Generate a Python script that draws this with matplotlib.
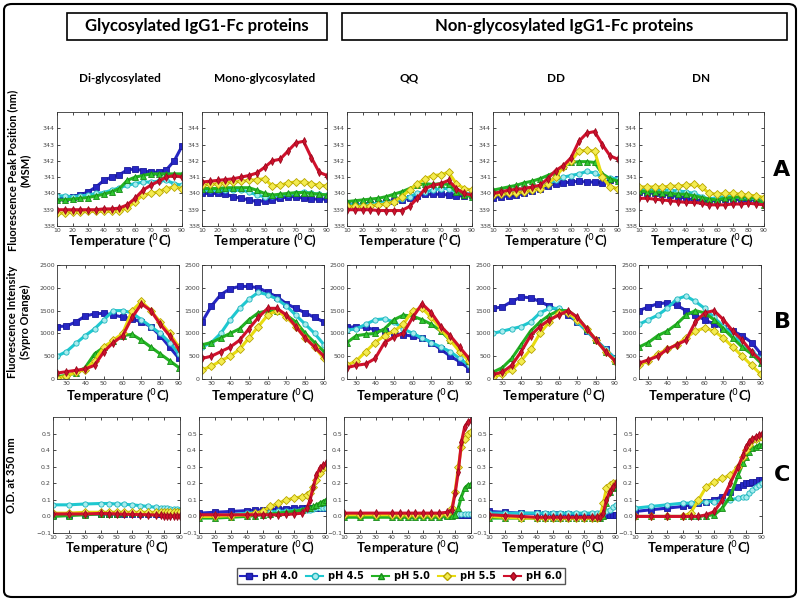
import numpy as np
import matplotlib
matplotlib.use('Agg')
import matplotlib.pyplot as plt
from matplotlib.patches import FancyBboxPatch, Rectangle

# ---- data ----
rowA_T = [10, 15, 20, 25, 30, 35, 40, 45, 50, 55, 60, 65, 70, 75, 80, 85, 90]
rowB_T = [25, 30, 35, 40, 45, 50, 55, 60, 65, 70, 75, 80, 85, 90]
rowC_T = [10, 20, 30, 40, 45, 50, 55, 60, 65, 70, 75, 78, 80, 82, 84, 86, 88, 90]

ph_labels = ['pH 4.0', 'pH 4.5', 'pH 5.0', 'pH 5.5', 'pH 6.0']
col_titles = ['Di-glycosylated', 'Mono-glycosylated', 'QQ', 'DD', 'DN']

# Row A: fluorescence peak position (nm)
di_A = [
    [339.7, 339.75, 339.8, 339.9, 340.1, 340.4, 340.8, 341.0, 341.15, 341.45, 341.5, 341.4, 341.3, 341.3, 341.45, 342.0, 342.9],
    [339.85, 339.85, 339.8, 339.85, 339.9, 340.0, 340.05, 340.2, 340.35, 340.5, 340.6, 340.7, 340.7, 340.75, 340.8, 340.6, 340.5],
    [339.6, 339.6, 339.65, 339.7, 339.75, 339.85, 339.95, 340.1, 340.3, 340.8, 341.0, 341.1, 341.2, 341.2, 341.2, 341.2, 341.2],
    [338.8, 338.8, 338.85, 338.85, 338.9, 338.9, 338.9, 338.9, 338.95, 339.1, 339.5, 339.9, 340.0, 340.1, 340.3, 340.4, 340.3],
    [339.0, 339.0, 339.0, 339.0, 339.0, 339.0, 339.05, 339.05, 339.1, 339.3, 339.7, 340.2, 340.5, 340.75, 341.0, 341.1, 341.0],
]
mono_A = [
    [340.0, 340.0, 340.0, 339.95, 339.8, 339.7, 339.6, 339.5, 339.55, 339.6, 339.7, 339.8, 339.8, 339.7, 339.65, 339.65, 339.65],
    [340.2, 340.2, 340.2, 340.2, 340.2, 340.2, 340.1, 339.9, 339.8, 339.85, 339.9, 339.95, 340.0, 340.1, 340.0, 339.95, 339.9],
    [340.3, 340.3, 340.3, 340.35, 340.35, 340.35, 340.35, 340.2, 340.0, 339.9, 339.95, 340.0, 340.05, 340.05, 340.0, 339.95, 339.9],
    [340.5, 340.55, 340.6, 340.65, 340.7, 340.75, 340.8, 340.85, 340.9, 340.45, 340.5, 340.65, 340.7, 340.7, 340.6, 340.5, 340.45],
    [340.7, 340.75, 340.8, 340.85, 340.9, 341.0, 341.1, 341.25, 341.6, 342.0, 342.1, 342.6, 343.1, 343.2, 342.2, 341.3, 341.1],
]
qq_A = [
    [339.3, 339.3, 339.3, 339.35, 339.4, 339.5, 339.55, 339.6, 339.7, 339.85, 339.95, 339.95, 339.95, 339.9, 339.85, 339.85, 339.9],
    [339.3, 339.3, 339.3, 339.35, 339.4, 339.45, 339.5, 339.65, 339.8, 340.0, 340.1, 340.2, 340.3, 340.3, 340.1, 340.0, 339.95],
    [339.5, 339.55, 339.6, 339.65, 339.7, 339.8, 339.95, 340.1, 340.3, 340.5, 340.6, 340.55, 340.6, 340.55, 340.1, 339.9, 339.8],
    [339.2, 339.2, 339.2, 339.25, 339.3, 339.35, 339.5, 339.8, 340.2, 340.6, 340.9, 341.1, 341.15, 341.3, 340.6, 340.3, 340.2],
    [339.0, 339.0, 339.0, 339.0, 338.95, 338.95, 338.95, 338.95, 339.2, 339.7, 340.3, 340.5, 340.6, 340.8, 340.3, 340.0, 339.9],
]
dd_A = [
    [339.75, 339.8, 339.85, 339.9, 340.0, 340.15, 340.3, 340.45, 340.6, 340.65, 340.7, 340.75, 340.7, 340.7, 340.65, 340.8, 340.9],
    [340.0, 340.05, 340.1, 340.2, 340.3, 340.35, 340.4, 340.6, 340.8, 341.0, 341.1, 341.2, 341.35, 341.25, 341.0, 340.95, 340.9],
    [340.2, 340.3, 340.4, 340.5, 340.65, 340.75, 340.9, 341.1, 341.3, 341.7, 341.9, 341.95, 341.95, 341.9, 341.2, 340.9, 340.75],
    [339.9, 339.95, 340.0, 340.05, 340.1, 340.2, 340.3, 340.6, 341.0, 341.6, 342.0, 342.6, 342.65, 342.6, 341.0, 340.4, 340.3],
    [340.0, 340.1, 340.2, 340.25, 340.3, 340.4, 340.5, 340.9, 341.4, 341.7, 342.2, 343.2, 343.7, 343.8, 343.0, 342.3, 342.1],
]
dn_A = [
    [340.1, 340.05, 340.0, 339.95, 339.9, 339.8, 339.7, 339.6, 339.55, 339.5, 339.6, 339.65, 339.65, 339.6, 339.6, 339.6, 339.6],
    [340.3, 340.3, 340.25, 340.2, 340.2, 340.15, 340.1, 340.0, 339.8, 339.65, 339.75, 339.8, 339.8, 339.75, 339.7, 339.7, 339.65],
    [340.15, 340.1, 340.1, 340.05, 340.0, 339.95, 339.95, 339.85, 339.75, 339.65, 339.6, 339.7, 339.75, 339.8, 339.8, 339.7, 339.3],
    [340.4, 340.4, 340.4, 340.4, 340.45, 340.45, 340.5, 340.55, 340.4, 340.0, 339.95, 340.0, 340.0, 339.95, 339.9, 339.85, 339.75],
    [339.7, 339.7, 339.65, 339.6, 339.55, 339.5, 339.45, 339.45, 339.4, 339.3, 339.3, 339.3, 339.35, 339.35, 339.4, 339.35, 339.3],
]

# Row B: fluorescence intensity (Sypro Orange)
di_B = [
    [1150, 1160, 1250, 1380, 1430, 1440, 1400, 1360, 1320, 1250, 1150, 950, 700, 450],
    [500, 600, 780, 950, 1100, 1300, 1500, 1500, 1450, 1300, 1150, 1000, 800, 550],
    [50, 80, 130, 250, 550, 700, 830, 950, 980, 850, 700, 550, 400, 250],
    [20, 60, 150, 200, 400, 700, 850, 1000, 1500, 1700, 1500, 1250, 1000, 700],
    [130, 160, 190, 220, 300, 600, 800, 950, 1350, 1650, 1500, 1200, 950, 650],
]
mono_B = [
    [1250, 1600, 1850, 1980, 2030, 2030, 2000, 1900, 1800, 1650, 1550, 1450, 1350, 1250],
    [700, 800, 1000, 1300, 1550, 1750, 1900, 1850, 1750, 1600, 1400, 1200, 1000, 750],
    [750, 800, 900, 1000, 1100, 1300, 1450, 1500, 1500, 1400, 1250, 1000, 800, 600],
    [200, 280, 400, 500, 650, 900, 1150, 1400, 1500, 1350, 1150, 900, 700, 450],
    [450, 500, 600, 700, 850, 1100, 1350, 1550, 1550, 1400, 1150, 900, 700, 500],
]
qq_B = [
    [1130, 1150, 1130, 1080, 1050, 1000, 970, 940, 900, 800, 650, 500, 380, 230],
    [1070, 1100, 1200, 1300, 1320, 1250, 1100, 1000, 900, 800, 700, 600, 450, 300],
    [800, 950, 980, 1000, 1100, 1300, 1400, 1380, 1300, 1200, 1050, 850, 650, 400],
    [300, 400, 600, 800, 950, 1050, 1200, 1500, 1550, 1350, 1100, 850, 600, 400],
    [250, 300, 330, 450, 800, 920, 1000, 1350, 1650, 1450, 1150, 950, 700, 450],
]
dd_B = [
    [1550, 1580, 1700, 1800, 1780, 1700, 1600, 1500, 1400, 1250, 1050, 850, 650, 450],
    [1000, 1050, 1100, 1150, 1250, 1450, 1550, 1550, 1450, 1250, 1050, 850, 650, 450],
    [150, 250, 450, 750, 1050, 1250, 1400, 1500, 1500, 1350, 1100, 850, 600, 400],
    [50, 100, 200, 400, 650, 1000, 1250, 1450, 1450, 1300, 1100, 850, 600, 400],
    [100, 150, 300, 600, 950, 1150, 1300, 1400, 1500, 1350, 1100, 850, 600, 400],
]
dn_B = [
    [1500, 1580, 1650, 1670, 1620, 1500, 1400, 1300, 1200, 1120, 1050, 950, 800, 550],
    [1200, 1300, 1400, 1550, 1750, 1820, 1700, 1550, 1350, 1150, 950, 800, 600, 450],
    [700, 800, 950, 1050, 1200, 1400, 1500, 1450, 1300, 1100, 900, 700, 550, 350],
    [300, 400, 550, 650, 750, 900, 1050, 1120, 1050, 900, 700, 500, 300, 100],
    [350, 420, 500, 650, 750, 850, 1250, 1450, 1500, 1300, 1050, 850, 600, 400],
]

# Row C: O.D. at 350 nm
di_C = [
    [0.01, 0.01, 0.015, 0.015, 0.015, 0.015, 0.015, 0.015, 0.015, 0.015, 0.015, 0.015, 0.015, 0.015, 0.015, 0.015, 0.015, 0.015],
    [0.07, 0.07, 0.075, 0.078, 0.078, 0.075, 0.073, 0.07, 0.065, 0.06, 0.055, 0.052, 0.05, 0.048, 0.046, 0.044, 0.042, 0.04],
    [0.0, 0.005, 0.01, 0.015, 0.015, 0.015, 0.018, 0.02, 0.02, 0.02, 0.022, 0.024, 0.025, 0.026, 0.028, 0.03, 0.032, 0.035],
    [0.02, 0.02, 0.025, 0.025, 0.025, 0.025, 0.025, 0.025, 0.025, 0.025, 0.025, 0.025, 0.025, 0.025, 0.025, 0.025, 0.025, 0.025],
    [0.015, 0.015, 0.015, 0.018, 0.017, 0.015, 0.013, 0.012, 0.011, 0.01, 0.008, 0.006, 0.005, 0.004, 0.003, 0.002, 0.001, 0.0],
]
mono_C = [
    [0.02, 0.025, 0.03, 0.035, 0.037, 0.04, 0.042, 0.045, 0.047, 0.05, 0.05, 0.05, 0.05, 0.05, 0.05, 0.05, 0.05, 0.05],
    [0.0, 0.005, 0.01, 0.02, 0.022, 0.025, 0.027, 0.03, 0.032, 0.035, 0.04, 0.04, 0.04, 0.045, 0.05, 0.05, 0.05, 0.05],
    [-0.01, -0.01, -0.005, 0.0, 0.005, 0.01, 0.015, 0.02, 0.025, 0.03, 0.04, 0.05, 0.05, 0.06, 0.07, 0.08, 0.09, 0.1],
    [0.0, 0.0, 0.005, 0.01, 0.02, 0.03, 0.06, 0.08, 0.1, 0.11, 0.12, 0.13, 0.14, 0.18, 0.22, 0.26, 0.29, 0.3],
    [0.01, 0.01, 0.01, 0.01, 0.01, 0.01, 0.01, 0.01, 0.012, 0.015, 0.02, 0.05, 0.1, 0.18, 0.25, 0.29, 0.31, 0.32],
]
qq_C = [
    [0.01, 0.01, 0.01, 0.01, 0.01, 0.01, 0.01, 0.01, 0.01, 0.01, 0.01, 0.01, 0.01, 0.01, 0.01, 0.01, 0.01, 0.01],
    [0.01, 0.01, 0.01, 0.01, 0.01, 0.01, 0.01, 0.01, 0.01, 0.01, 0.01, 0.01, 0.01, 0.012, 0.012, 0.012, 0.012, 0.012],
    [-0.005, -0.005, -0.005, -0.005, -0.005, -0.005, -0.005, -0.005, -0.005, -0.005, 0.0, 0.005, 0.01, 0.05, 0.12, 0.17, 0.19, 0.195],
    [0.01, 0.01, 0.01, 0.01, 0.01, 0.01, 0.01, 0.01, 0.01, 0.01, 0.015, 0.05, 0.15, 0.3, 0.42, 0.47, 0.5, 0.51],
    [0.02, 0.02, 0.02, 0.02, 0.02, 0.02, 0.02, 0.02, 0.02, 0.02, 0.025, 0.04, 0.14, 0.27, 0.45, 0.54, 0.57, 0.58],
]
dd_C = [
    [0.03, 0.025, 0.02, 0.018, 0.017, 0.015, 0.014, 0.012, 0.011, 0.01, 0.01, 0.01, 0.01, 0.01, 0.01, 0.01, 0.01, 0.01],
    [0.02, 0.02, 0.02, 0.02, 0.02, 0.02, 0.02, 0.02, 0.02, 0.02, 0.02, 0.02, 0.02, 0.02, 0.03, 0.04, 0.055, 0.07],
    [-0.01, -0.01, -0.01, -0.01, -0.01, -0.01, -0.01, -0.01, -0.01, -0.01, -0.01, -0.01, -0.01, 0.0, 0.08, 0.15, 0.17, 0.18],
    [0.0, -0.005, -0.01, -0.01, -0.01, -0.01, -0.01, -0.01, -0.01, -0.01, -0.01, -0.01, 0.0, 0.08, 0.17, 0.19, 0.2, 0.2],
    [0.01, 0.005, 0.0, -0.005, -0.005, -0.005, -0.005, -0.005, -0.005, -0.005, -0.005, -0.005, -0.005, 0.02, 0.1, 0.15, 0.18, 0.2],
]
dn_C = [
    [0.03, 0.04, 0.05, 0.06, 0.07, 0.08, 0.09, 0.1, 0.12, 0.15, 0.18, 0.19, 0.2, 0.2, 0.21, 0.21, 0.22, 0.22],
    [0.05, 0.06, 0.07, 0.08, 0.08, 0.085, 0.09, 0.09, 0.095, 0.1, 0.11, 0.12, 0.12, 0.14, 0.16, 0.18, 0.19, 0.2],
    [0.0, 0.0, 0.0, 0.0, 0.0, 0.0, 0.005, 0.01, 0.05, 0.12, 0.25, 0.32, 0.36, 0.39, 0.41, 0.42, 0.43, 0.43],
    [0.0, 0.0, 0.0, 0.0, 0.02, 0.1, 0.18, 0.21, 0.23, 0.25, 0.3, 0.36, 0.4, 0.43, 0.46, 0.47, 0.48, 0.48],
    [0.0, 0.0, 0.0, 0.0, 0.0, 0.0, 0.01, 0.03, 0.1, 0.2, 0.3, 0.37, 0.42, 0.45, 0.47, 0.48, 0.49, 0.5],
]

rows = [
    (rowA_T, [di_A, mono_A, qq_A, dd_A, dn_A]),
    (rowB_T, [di_B, mono_B, qq_B, dd_B, dn_B]),
    (rowC_T, [di_C, mono_C, qq_C, dd_C, dn_C]),
]

# ---- styles ----
styles = [
    dict(color='#2626c4', marker='s', mfc='#2626c4', mec='#1a1a9a'),
    dict(color='#1ec8d0', marker='o', mfc='#a8ecee', mec='#1ab4bc'),
    dict(color='#22b222', marker='^', mfc='#30c830', mec='#178a17'),
    dict(color='#e8dc10', marker='D', mfc='#f4ec50', mec='#b8a400'),
    dict(color='#d0102c', marker='d', mfc='#d0102c', mec='#9a0a1e'),
]

W, H = 800, 601
fig = plt.figure(figsize=(8.0, 6.01), dpi=100)


def px_axes(left, top, w, h):
    return fig.add_axes([left / W, 1 - (top + h) / H, w / W, h / H])


row_tops = [112, 265, 417]
row_h = [114, 114, 116]
row_lefts = [[57, 202, 347, 493, 639], [57, 202, 347, 493, 639], [53, 199, 344, 489, 635]]
row_w = [125, 122, 127]
ylims = [(338, 345), (0, 2500), (-0.1, 0.6)]
yticks = [np.arange(338, 345, 1), np.arange(0, 2501, 500), np.round(np.arange(-0.1, 0.51, 0.1), 1)]
xlims = [(10, 90), (25, 90), (10, 90)]
xticks = [np.arange(10, 91, 10), np.arange(30, 91, 10), np.arange(10, 91, 10)]
xlabel_y = [241, 396, 548]

for r, (T, panels) in enumerate(rows):
    for c, curves in enumerate(panels):
        ax = px_axes(row_lefts[r][c], row_tops[r], row_w[r], row_h[r])
        for vals, st in zip(curves, styles):
            ax.plot(T, vals, color=st['color'], lw=2.2, marker=st['marker'], ms=3.8,
                    mfc=st['mfc'], mec=st['mec'], mew=0.6)
        ax.set_xlim(*xlims[r])
        ax.set_ylim(*ylims[r])
        ax.set_xticks(xticks[r])
        ax.set_yticks(yticks[r])
        ax.tick_params(direction='in', top=True, right=True, length=2.5, width=0.5,
                       labelsize=4.5, labelcolor='#444444', pad=1.5)
        for sp in ax.spines.values():
            sp.set_linewidth(0.6)
            sp.set_color('#333333')
        fig.text((row_lefts[r][c] + row_w[r] / 2) / W, 1 - xlabel_y[r] / H,
                 'Temperature ($^{0}$C)', ha='center', va='center',
                 fontsize=9.5, fontweight='bold', family='Lato')

# column titles
for c, t in enumerate(col_titles):
    fig.text((row_lefts[0][c] + row_w[0] / 2) / W, 1 - 78 / H, t, ha='center', va='center',
             fontsize=8.5, fontweight='bold', family='Lato')

# y labels
ylabs = ['Fluorescence Peak Position (nm)\n(MSM)', 'Fluorescence Intensity\n(Sypro Orange)', 'O.D. at 350 nm']
ylab_y = [170, 322, 475]
ylab_x = [19, 19, 12]
for t, yy, xx in zip(ylabs, ylab_y, ylab_x):
    fig.text(xx / W, 1 - yy / H, t, rotation=90, ha='center', va='center',
             fontsize=8, fontweight='bold', family='Lato', linespacing=1.2)

# panel letters
for t, yy in zip(['A', 'B', 'C'], [170, 322, 475]):
    fig.text(782 / W, 1 - yy / H, t, ha='center', va='center', fontsize=16, fontweight='bold',
             family='DejaVu Sans')

# header boxes
for x0, x1, t in [(67, 327, 'Glycosylated IgG1-Fc proteins'), (342, 787, 'Non-glycosylated IgG1-Fc proteins')]:
    fig.patches.append(Rectangle((x0 / W, 1 - 40 / H), (x1 - x0) / W, 27 / H,
                                 transform=fig.transFigure, fill=False, lw=1.2, ec='black'))
    fig.text((x0 + x1) / 2 / W, 1 - 26.5 / H, t, ha='center', va='center', fontsize=12,
             fontweight='bold', family='Lato')

# outer rounded border
fig.patches.append(FancyBboxPatch((4 / W, 4 / H), 792 / W, 593 / H,
                                  boxstyle='round,pad=0,rounding_size=0.01',
                                  transform=fig.transFigure, fill=False, lw=1.5, ec='black'))

# legend
handles = [plt.Line2D([], [], color=st['color'], lw=1.5, marker=st['marker'], ms=4.5,
                      mfc=st['mfc'], mec=st['mec']) for st in styles]
fig.legend(handles, ph_labels, loc='center', bbox_to_anchor=(401 / W, 1 - 576 / H), ncol=5,
           fancybox=False, edgecolor='#555555', framealpha=1, handlelength=1.8,
           columnspacing=0.8, handletextpad=0.5, borderpad=0.3,
           prop=dict(family='DejaVu Sans', weight='bold', size=7))

fig.savefig('out.png', dpi=100)
